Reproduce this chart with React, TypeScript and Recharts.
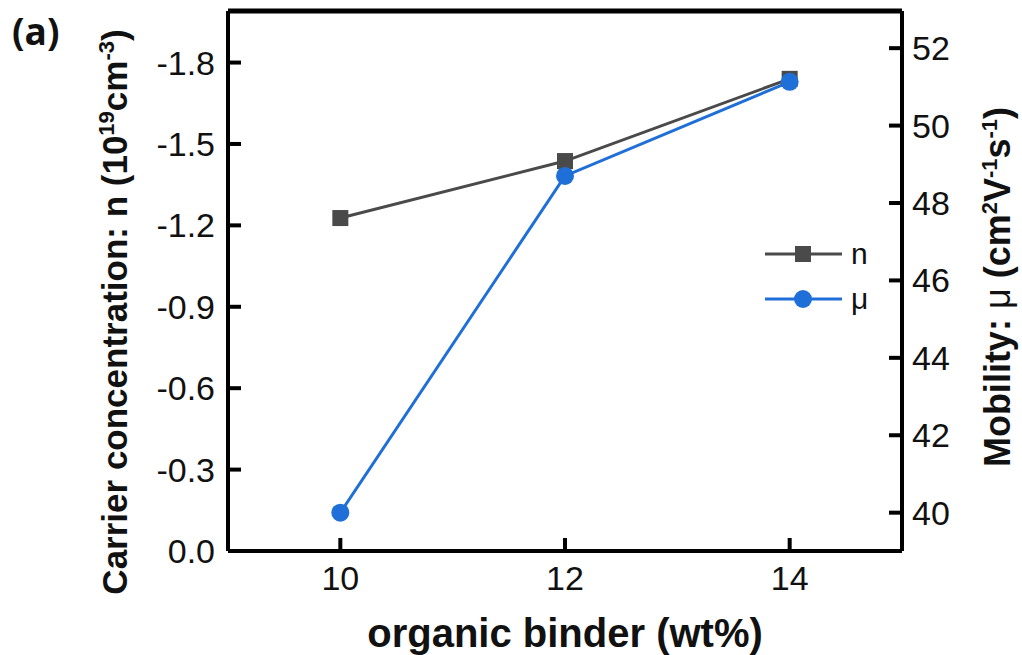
import React from "react";
import { LineChart, Line, XAxis, YAxis, ReferenceLine } from "recharts";

// organic binder content (wt%)
const BINDER = [10, 12, 14];
// carrier concentration n (10^19 cm^-3)
const CARRIER_N = [-1.227, -1.437, -1.74];
// Hall mobility (cm^2 V^-1 s^-1)
const MOBILITY = [40.0, 48.7, 51.13];

const X_TICKS = [10, 12, 14];
const N_TICKS = [0, -0.3, -0.6, -0.9, -1.2, -1.5, -1.8];
const MU_TICKS = [40, 42, 44, 46, 48, 50, 52];

const N_DOMAIN: [number, number] = [-1.99, 0];
const MU_DOMAIN: [number, number] = [39.01, 52.96];

const GRAY = "#4a4a4a";
const BLUE = "#1f6fd8";
const INK = "#000";
const FONT = "'Liberation Sans', Arial, sans-serif";

const SERIES = [
  { key: "n", name: "n", color: GRAY, marker: "square" },
  { key: "mu", name: "μ", color: BLUE, marker: "circle" },
];

const rows = BINDER.map((b, i) => ({ binder: b, n: CARRIER_N[i], mu: MOBILITY[i] }));

// ticks point into the plot, hence the negative size
const TICK_LEN = -13;
const tickText = { fontFamily: FONT, fontSize: 34, fill: "#111" };
const frame = { stroke: INK, strokeWidth: 4 };
const tickMark = { stroke: INK, strokeWidth: 4 };

function BottomTick({ x, y, payload }: any) {
  return (
    <g>
      <line x1={x} x2={x} y1={y + TICK_LEN} y2={y} stroke={INK} strokeWidth={4} />
      <text x={x} y={y + 39} textAnchor="middle" {...tickText}>
        {payload.value}
      </text>
    </g>
  );
}

function SquareDot({ cx, cy }: any) {
  if (cx == null || cy == null) return null;
  return <rect x={cx - 8} y={cy - 8} width={16} height={16} fill={GRAY} />;
}

function RoundDot({ cx, cy }: any) {
  if (cx == null || cy == null) return null;
  return <circle cx={cx} cy={cy} r={9} fill={BLUE} />;
}

const titleStyle = { fontFamily: FONT, fontWeight: 700, fill: "#111" };

// titles, panel tag and legend sit in a transparent layer above the chart
function Annotations() {
  return (
    <svg
      width={1022}
      height={655}
      style={{ position: "absolute", left: 0, top: 0, pointerEvents: "none" }}
    >
      <text x={12} y={45} fontFamily="'Open Sans', sans-serif" fontWeight={700} fontSize={37} fill="#111">
        (a)
      </text>

      <text
        x={127}
        y={312}
        textAnchor="middle"
        transform="rotate(-90, 127, 312)"
        fontSize={35}
        {...titleStyle}
      >
        Carrier concentration: n (10
        <tspan dy={-13} fontSize={22}>19</tspan>
        <tspan dy={13}>cm</tspan>
        <tspan dy={-13} fontSize={22}>-3</tspan>
        <tspan dy={13}>)</tspan>
      </text>

      <text
        x={1010}
        y={287}
        textAnchor="middle"
        transform="rotate(-90, 1010, 287)"
        fontSize={36}
        {...titleStyle}
      >
        Mobility: <tspan fontWeight={400}>μ</tspan> (cm
        <tspan dy={-13} fontSize={22}>2</tspan>
        <tspan dy={13}>V</tspan>
        <tspan dy={-13} fontSize={22}>-1</tspan>
        <tspan dy={13}>s</tspan>
        <tspan dy={-13} fontSize={22}>-1</tspan>
        <tspan dy={13}>)</tspan>
      </text>

      <text x={565} y={647} textAnchor="middle" fontSize={40} {...titleStyle}>
        organic binder (wt%)
      </text>

      <g transform="translate(760, 235)">
        {SERIES.map((s, i) => {
          const y = 19 + i * 45;
          return (
            <g key={s.key}>
              <line x1={5} x2={82} y1={y} y2={y} stroke={s.color} strokeWidth={3} />
              {s.marker === "square" ? (
                <rect x={35} y={y - 8} width={16} height={16} fill={s.color} />
              ) : (
                <circle cx={43} cy={y} r={9} fill={s.color} />
              )}
              <text x={91} y={y + 10} fontFamily={FONT} fontSize={30} fill="#111">
                {s.name}
              </text>
            </g>
          );
        })}
      </g>
    </svg>
  );
}

export default function App() {
  return (
    <div style={{ position: "absolute", left: 0, top: 0, background: "#fff" }}>
      <LineChart
        width={1022}
        height={655}
        data={rows}
        margin={{ top: 11, right: 0, bottom: 0, left: 0 }}
      >
        <XAxis
          dataKey="binder"
          type="number"
          domain={[9, 15]}
          ticks={X_TICKS}
          interval={0}
          height={104}
          axisLine={frame}
          tickLine={false}
          tickSize={0}
          tickMargin={0}
          tick={<BottomTick />}
        />
        <YAxis
          yAxisId="n"
          orientation="left"
          type="number"
          width={228}
          reversed
          domain={N_DOMAIN}
          ticks={N_TICKS}
          interval={0}
          axisLine={frame}
          tickLine={tickMark}
          tickSize={TICK_LEN}
          tickMargin={26}
          tick={tickText}
          tickFormatter={(v) => Number(v).toFixed(1)}
        />
        <YAxis
          yAxisId="mu"
          orientation="right"
          type="number"
          width={120}
          domain={MU_DOMAIN}
          ticks={MU_TICKS}
          interval={0}
          axisLine={frame}
          tickLine={tickMark}
          tickSize={TICK_LEN}
          tickMargin={23}
          tick={tickText}
        />
        {/* top edge of the frame */}
        <ReferenceLine yAxisId="n" y={N_DOMAIN[0]} stroke={INK} strokeWidth={5} />
        <Line
          yAxisId="n"
          dataKey="n"
          name={SERIES[0].name}
          stroke={GRAY}
          strokeWidth={3}
          dot={<SquareDot />}
          activeDot={false}
          isAnimationActive={false}
        />
        <Line
          yAxisId="mu"
          dataKey="mu"
          name={SERIES[1].name}
          stroke={BLUE}
          strokeWidth={3}
          dot={<RoundDot />}
          activeDot={false}
          isAnimationActive={false}
        />
      </LineChart>
      <Annotations />
    </div>
  );
}
